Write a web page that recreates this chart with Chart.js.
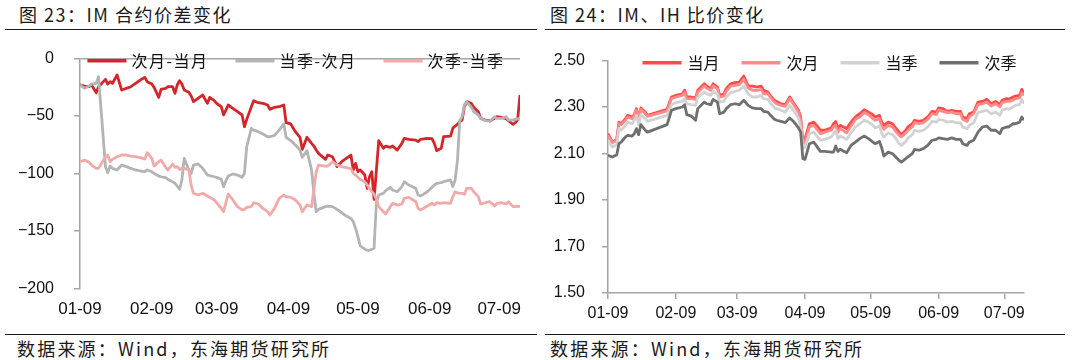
<!DOCTYPE html>
<html>
<head>
<meta charset="utf-8">
<script src="https://cdn.jsdelivr.net/npm/chart.js@4.4.1/dist/chart.umd.min.js"></script>
<style>
html, body { margin: 0; padding: 0; background: #fff; }
body { width: 1073px; height: 360px; position: relative; overflow: hidden; font-family: "Noto Sans CJK SC", sans-serif; color: #1a1a1a; }
.title { position: absolute; top: 3px; font-size: 18px; line-height: 22px; letter-spacing: 1.5px; white-space: nowrap; }
.rule { position: absolute; height: 1px; background: #1a1a1a; }
.source { position: absolute; top: 337px; font-size: 18px; line-height: 22px; letter-spacing: 2.2px; white-space: nowrap; }
.box { position: absolute; top: 40px; height: 290px; }
</style>
</head>
<body>
<div class="title" style="left:19px">图 23：IM 合约价差变化</div>
<div class="title" style="left:550px">图 24：IM、IH 比价变化</div>
<div class="rule" style="left:5px;width:532px;top:29px"></div>
<div class="rule" style="left:545px;width:520px;top:29px"></div>
<div class="box" style="left:0;width:540px"><canvas id="spreadChart"></canvas></div>
<div class="box" style="left:540px;width:533px"><canvas id="ratioChart"></canvas></div>
<div class="rule" style="left:5px;width:532px;top:334px"></div>
<div class="rule" style="left:545px;width:520px;top:334px"></div>
<div class="source" style="left:17px">数据来源：Wind，东海期货研究所</div>
<div class="source" style="left:550px">数据来源：Wind，东海期货研究所</div>

<script>
// x axis labels (2025)
const monthTicks = ['01-09', '02-09', '03-09', '04-09', '05-09', '06-09', '07-09'];

// 图23 IM 合约价差
const spreadDates = ['01-09','01-11','01-13','01-14','01-16','01-17','01-20','01-21','01-22','01-23','01-25','01-27',
  '01-29','01-31','02-02','02-04','02-06','02-07','02-09','02-10','02-12','02-13','02-15','02-16',
  '02-18','02-19','02-20','02-21','02-22','02-23','02-25','02-26','02-27','03-01','03-03','03-05',
  '03-06','03-08','03-09','03-11','03-12','03-13','03-14','03-16','03-18','03-20','03-21','03-22',
  '03-24','03-25','03-27','03-29','03-31','04-01','04-03','04-05','04-07','04-08','04-10','04-12',
  '04-14','04-15','04-17','04-19','04-20','04-21','04-22','04-25','04-26','04-28','04-30','05-02',
  '05-04','05-06','05-07','05-08','05-09','05-10','05-12','05-13','05-14','05-15','05-16','05-17',
  '05-18','05-20','05-21','05-23','05-24','05-26','05-28','05-29','05-31','06-03','06-04','06-05',
  '06-08','06-10','06-11','06-12','06-14','06-15','06-18','06-19','06-20','06-21','06-22','06-23',
  '06-24','06-25','06-27','06-28','06-30','07-01','07-03','07-05','07-07','07-08','07-10','07-12',
  '07-13','07-15','07-16','07-17','07-18'];
const spreadNext = [-23.2,-24.1,-24.7,-23.2,-29.9,-24.7,-18.3,-22.4,-20.3,-21.8,-14.5,-27.6,
  -26.1,-24.7,-21.8,-18.9,-16.6,-20.3,-22.4,-25.3,-34.0,-27.0,-26.1,-24.7,
  -24.7,-30.5,-23.2,-19.5,-22.4,-27.6,-29.6,-32.8,-37.7,-34.8,-31.9,-39.2,
  -34.0,-36.9,-39.2,-42.1,-49.3,-45.0,-40.6,-43.5,-46.4,-49.3,-59.5,-53.1,
  -42.1,-36.9,-38.6,-39.2,-40.6,-44.4,-42.6,-42.1,-40.6,-56.0,-57.1,-63.8,
  -68.7,-79.2,-68.7,-74.0,-76.3,-79.8,-82.7,-87.9,-84.1,-85.6,-94.2,-89.9,
  -87.0,-84.1,-97.1,-91.4,-98.6,-97.1,-101.5,-113.1,-103.0,-98.6,-122.7,-97.1,
  -71.6,-78.3,-76.3,-77.4,-76.3,-79.8,-74.0,-69.6,-70.5,-71.1,-72.5,-70.5,
  -69.6,-69.9,-74.0,-80.3,-78.3,-68.2,-67.6,-60.9,-58.9,-57.5,-55.0,-53.7,
  -42.1,-37.7,-39.2,-42.6,-46.4,-52.2,-53.7,-54.5,-52.2,-50.8,-51.3,-52.5,
  -54.2,-57.4,-56.0,-53.1,-31.9];
const spreadQuarter = [-23.2,-26.1,-24.1,-22.4,-21.8,-16.0,-94.2,-99.5,-93.7,-95.7,-97.1,-92.8,
  -94.2,-95.7,-97.1,-98.0,-98.6,-97.1,-98.6,-100.1,-102.4,-103.0,-103.8,-105.3,
  -107.3,-108.7,-111.1,-113.9,-105.8,-87.0,-97.1,-100.1,-92.8,-91.9,-95.7,-101.5,
  -102.1,-103.0,-103.5,-105.3,-111.6,-106.4,-102.4,-100.6,-101.5,-103.5,-100.1,-76.9,
  -60.9,-62.4,-63.8,-65.8,-68.2,-68.2,-67.0,-62.4,-57.1,-68.7,-71.6,-75.4,
  -79.8,-86.1,-80.3,-97.1,-117.4,-133.4,-131.4,-129.0,-128.5,-129.0,-131.4,-134.3,
  -137.2,-139.2,-142.1,-147.9,-155.1,-163.0,-166.0,-167.0,-167.0,-166.0,-165.0,-125.0,
  -118.9,-117.4,-115.1,-112.2,-114.5,-116.0,-111.6,-107.3,-110.2,-113.1,-118.9,-119.8,
  -116.0,-112.2,-110.2,-108.7,-108.2,-107.3,-105.8,-111.6,-105.8,-88.5,-54.0,-50.8,
  -40.6,-37.7,-42.6,-46.4,-49.3,-52.2,-54.2,-54.8,-50.8,-52.2,-52.2,-50.8,
  -53.7,-53.7,-53.1,-52.5,-53.1];
const spreadFar = [-89.9,-88.5,-90.5,-92.8,-95.7,-95.7,-85.6,-84.1,-89.9,-87.9,-85.6,-84.1,
  -84.1,-85.0,-85.6,-86.4,-87.6,-82.1,-87.0,-93.7,-89.9,-88.5,-94.8,-97.1,
  -91.9,-94.8,-94.2,-96.6,-95.7,-95.7,-97.1,-110.2,-117.4,-118.9,-117.4,-119.8,
  -120.9,-123.2,-125.6,-130.5,-133.4,-125.6,-118.0,-123.2,-129.0,-131.9,-131.4,-129.6,
  -129.0,-125.6,-126.7,-130.5,-133.4,-136.3,-130.5,-121.8,-118.9,-120.3,-120.9,-123.2,
  -127.6,-133.4,-127.6,-129.0,-114.5,-98.6,-92.8,-93.7,-93.7,-89.9,-92.8,-94.2,
  -95.1,-96.0,-100.1,-101.5,-103.5,-105.3,-107.3,-110.2,-113.1,-116.0,-118.0,-122.7,
  -129.0,-133.4,-135.4,-129.0,-126.1,-127.6,-126.7,-121.8,-120.9,-124.7,-130.5,-131.9,
  -128.5,-126.1,-127.6,-125.6,-126.1,-125.6,-126.1,-120.3,-116.0,-116.9,-117.4,-117.4,
  -118.3,-113.1,-113.1,-116.0,-120.3,-126.7,-125.6,-124.7,-128.5,-126.1,-125.6,-126.7,
  -124.7,-129.0,-129.0,-128.5,-129.0];
const spreadTicks = [0, -50, -100, -150, -200];

// 图24 IM、IH 比价
const ratioDates = ['01-09','01-11','01-13','01-14','01-15','01-17','01-18','01-20','01-21','01-22',
  '01-23','01-24','01-26','01-27','02-05','02-07','02-09','02-12','02-13','02-14',
  '02-16','02-18','02-19','02-22','02-23','02-25','02-26','02-28','03-01','03-03',
  '03-04','03-06','03-08','03-10','03-12','03-14','03-16','03-18','03-20','03-21',
  '03-23','03-24','03-26','03-27','03-29','03-31','04-02','04-04','04-06','04-07',
  '04-08','04-09','04-11','04-13','04-16','04-18','04-21','04-22','04-23','04-24',
  '04-25','04-28','04-30','05-02','05-04','05-06','05-08','05-10','05-11','05-13',
  '05-14','05-15','05-17','05-19','05-20','05-22','05-23','05-25','05-26','05-28',
  '05-29','05-31','06-02','06-04','06-06','06-08','06-09','06-11','06-13','06-15',
  '06-17','06-19','06-20','06-22','06-23','06-25','06-27','06-29','07-01','07-03',
  '07-05','07-07','07-08','07-10','07-11','07-13','07-14','07-16','07-17','07-18'];
const ratioM1 = [2.185,2.149,2.161,2.235,2.228,2.250,2.264,2.257,2.267,2.293,
  2.250,2.296,2.278,2.264,2.290,2.343,2.350,2.357,2.372,2.343,
  2.343,2.339,2.372,2.400,2.390,2.379,2.400,2.386,2.350,2.357,
  2.379,2.400,2.405,2.407,2.433,2.390,2.390,2.386,2.390,2.372,
  2.364,2.350,2.329,2.324,2.314,2.310,2.343,2.314,2.286,2.257,
  2.149,2.164,2.228,2.235,2.200,2.200,2.210,2.228,2.238,2.207,
  2.221,2.207,2.235,2.257,2.271,2.288,2.278,2.267,2.257,2.264,
  2.235,2.221,2.235,2.228,2.214,2.192,2.181,2.200,2.214,2.228,
  2.243,2.238,2.243,2.257,2.281,2.278,2.296,2.293,2.281,2.286,
  2.281,2.281,2.257,2.250,2.271,2.278,2.321,2.324,2.333,2.314,
  2.324,2.310,2.329,2.336,2.333,2.343,2.347,2.350,2.376,2.357];
const ratioM2 = [2.178,2.146,2.157,2.228,2.224,2.243,2.257,2.250,2.264,2.286,
  2.247,2.290,2.271,2.260,2.283,2.336,2.343,2.350,2.362,2.336,
  2.336,2.333,2.364,2.390,2.382,2.372,2.390,2.379,2.343,2.347,
  2.367,2.390,2.393,2.396,2.419,2.382,2.372,2.372,2.376,2.357,
  2.357,2.343,2.321,2.314,2.307,2.303,2.336,2.307,2.278,2.243,
  2.142,2.149,2.214,2.221,2.185,2.192,2.200,2.214,2.221,2.192,
  2.207,2.189,2.218,2.247,2.257,2.276,2.267,2.250,2.243,2.250,
  2.218,2.204,2.221,2.214,2.200,2.178,2.171,2.189,2.200,2.214,
  2.233,2.228,2.233,2.247,2.271,2.267,2.286,2.281,2.276,2.278,
  2.271,2.271,2.247,2.238,2.257,2.271,2.310,2.314,2.321,2.304,
  2.314,2.300,2.319,2.324,2.324,2.329,2.336,2.339,2.362,2.350];
const ratioQ1 = [2.157,2.128,2.138,2.207,2.200,2.221,2.235,2.228,2.243,2.264,
  2.224,2.267,2.250,2.238,2.264,2.310,2.319,2.324,2.336,2.314,
  2.310,2.307,2.343,2.364,2.357,2.350,2.367,2.357,2.321,2.324,
  2.343,2.362,2.367,2.372,2.390,2.357,2.343,2.343,2.350,2.336,
  2.333,2.319,2.296,2.293,2.286,2.278,2.307,2.281,2.253,2.214,
  2.121,2.128,2.185,2.192,2.157,2.161,2.171,2.185,2.200,2.164,
  2.175,2.161,2.189,2.214,2.228,2.243,2.235,2.221,2.210,2.218,
  2.189,2.171,2.189,2.181,2.171,2.142,2.135,2.152,2.167,2.181,
  2.200,2.195,2.200,2.214,2.238,2.235,2.247,2.243,2.235,2.238,
  2.233,2.233,2.214,2.207,2.221,2.233,2.276,2.281,2.286,2.271,
  2.278,2.264,2.286,2.293,2.290,2.300,2.307,2.310,2.333,2.314];
const ratioQ2 = [2.092,2.085,2.095,2.142,2.149,2.171,2.178,2.175,2.185,2.207,
  2.181,2.224,2.200,2.192,2.224,2.286,2.293,2.300,2.310,2.267,
  2.261,2.243,2.293,2.321,2.314,2.310,2.333,2.321,2.271,2.278,
  2.293,2.310,2.314,2.310,2.329,2.307,2.296,2.293,2.293,2.281,
  2.278,2.267,2.247,2.243,2.238,2.233,2.253,2.235,2.210,2.192,
  2.078,2.075,2.142,2.149,2.109,2.109,2.106,2.106,2.132,2.109,
  2.118,2.103,2.135,2.149,2.164,2.175,2.164,2.149,2.142,2.152,
  2.124,2.089,2.106,2.099,2.089,2.070,2.063,2.078,2.085,2.099,
  2.118,2.114,2.121,2.135,2.157,2.161,2.167,2.164,2.161,2.167,
  2.161,2.161,2.142,2.135,2.149,2.157,2.192,2.214,2.218,2.200,
  2.200,2.185,2.207,2.214,2.214,2.228,2.228,2.235,2.257,2.243];
const ratioTicks = [1.5, 1.7, 1.9, 2.1, 2.3, 2.5];

// days since 01-09
function dayOf(mmdd) {
  const [m, d] = mmdd.split('-').map(Number);
  return (Date.UTC(2025, m - 1, d) - Date.UTC(2025, 0, 9)) / 864e5;
}
const tickDays = monthTicks.map(dayOf);
function points(dates, vals) {
  return vals.map((v, i) => ({ x: dayOf(dates[i]), y: v }));
}

// legend drawn as line samples sitting on the top of the plot area
const lineLegend = {
  id: 'lineLegend',
  afterDraw(chart, args, opts) {
    const { ctx, chartArea } = chart;
    const sets = chart.data.datasets;
    ctx.save();
    ctx.font = opts.font;
    if ('letterSpacing' in ctx) ctx.letterSpacing = opts.letterSpacing || '0px';
    const widths = sets.map(ds => opts.boxWidth + opts.textGap + ctx.measureText(ds.label).width);
    const total = widths.reduce((a, b) => a + b, 0) + opts.itemGap * (sets.length - 1);
    let x = (chartArea.left + chartArea.right) / 2 - total / 2 + opts.shiftX;
    const y = chartArea.top + opts.offsetY;
    ctx.textBaseline = 'middle';
    sets.forEach((ds, i) => {
      ctx.strokeStyle = ds.borderColor;
      ctx.lineWidth = opts.lineWidth;
      ctx.beginPath();
      ctx.moveTo(x, y);
      ctx.lineTo(x + opts.boxWidth, y);
      ctx.stroke();
      ctx.fillStyle = opts.color;
      ctx.fillText(ds.label, x + opts.boxWidth + opts.textGap, y + 0.5);
      x += widths[i] + opts.itemGap;
    });
    ctx.restore();
  }
};

const axisGray = '#a6a6a6';
const fontFamily = '"Liberation Sans", Arial, sans-serif';

// keep the plot area where layout.padding puts it
function noOverflow(s, size) {
  if (s.isHorizontal()) s.height = size; else s.width = size;
  s.paddingTop = 0;
  s.paddingBottom = 0;
  s.paddingLeft = 0;
  s.paddingRight = 0;
}

function xScale(lastDay, fontSize, padding, opts) {
  return Object.assign({
    type: 'linear',
    min: 0,
    max: lastDay,
    afterBuildTicks: s => { s.ticks = tickDays.map(v => ({ value: v })); },
    ticks: {
      autoSkip: false,
      maxRotation: 0,
      color: '#111',
      font: { family: fontFamily, size: fontSize },
      padding: padding,
      callback: (v, i) => monthTicks[i]
    }
  }, opts);
}

function line(label, color, dates, vals, order) {
  return {
    label: label,
    data: points(dates, vals),
    borderColor: color,
    backgroundColor: color,
    borderWidth: 2.8,
    borderJoinStyle: 'round',
    pointRadius: 0,
    tension: 0,
    order: order
  };
}

Chart.defaults.animation = false;

new Chart(document.getElementById('spreadChart'), {
  type: 'line',
  data: {
    datasets: [
      line('次月-当月', '#d3262b', spreadDates, spreadNext, 3),
      line('当季-次月', '#b4b4b4', spreadDates, spreadQuarter, 2),
      line('次季-当季', '#f1aaaa', spreadDates, spreadFar, 1)
    ]
  },
  options: {
    responsive: true,
    maintainAspectRatio: false,
    layout: { padding: { top: 18.3, right: 20, bottom: 0, left: 0 } },
    plugins: {
      legend: { display: false },
      tooltip: { enabled: false },
      lineLegend: {
        font: '16px "Noto Sans CJK SC"', letterSpacing: '1.5px', color: '#111',
        boxWidth: 39, textGap: 5, itemGap: 27, offsetY: 2.5, lineWidth: 3.5, shiftX: -4
      }
    },
    scales: {
      x: xScale(dayOf(spreadDates[spreadDates.length - 1]), 17, 10.5, {
        border: { display: false },
        grid: { display: false, drawTicks: false },
        afterFit: s => noOverflow(s, 41.7)
      }),
      y: {
        min: -200,
        max: 0,
        afterBuildTicks: s => { s.ticks = spreadTicks.map(v => ({ value: v })); },
        border: { color: axisGray, width: 1.5 },
        grid: {
          color: c => (c.tick && c.tick.value === 0 ? axisGray : 'rgba(0,0,0,0)'),
          lineWidth: 1.5,
          tickColor: axisGray,
          tickLength: 6
        },
        ticks: {
          color: '#111',
          font: { family: fontFamily, size: 16 },
          padding: 20,
          callback: v => (v < 0 ? '\u2212' + Math.abs(v) : String(v))
        },
        afterFit: s => noOverflow(s, 80)
      }
    }
  },
  plugins: [lineLegend]
});

new Chart(document.getElementById('ratioChart'), {
  type: 'line',
  data: {
    datasets: [
      line('当月', '#ff4a4a', ratioDates, ratioM1, 4),
      line('次月', '#ff8a8a', ratioDates, ratioM2, 3),
      line('当季', '#d2d2d2', ratioDates, ratioQ1, 2),
      line('次季', '#6f6f6f', ratioDates, ratioQ2, 1)
    ]
  },
  options: {
    responsive: true,
    maintainAspectRatio: false,
    layout: { padding: { top: 20.5, right: 49, bottom: 0, left: 0 } },
    plugins: {
      legend: { display: false },
      tooltip: { enabled: false },
      lineLegend: {
        font: '16px "Noto Sans CJK SC"', letterSpacing: '0px', color: '#111',
        boxWidth: 39, textGap: 6, itemGap: 22, offsetY: 2.2, lineWidth: 3.5, shiftX: 13.5
      }
    },
    scales: {
      x: xScale(dayOf(ratioDates[ratioDates.length - 1]), 16, 5.4, {
        border: { color: axisGray, width: 1.5 },
        grid: { drawOnChartArea: false, color: axisGray, lineWidth: 1.5, tickLength: 6 },
        afterFit: s => noOverflow(s, 37)
      }),
      y: {
        min: 1.5,
        max: 2.5,
        afterBuildTicks: s => { s.ticks = ratioTicks.map(v => ({ value: v })); },
        border: { color: axisGray, width: 1.5 },
        grid: { drawOnChartArea: false, color: axisGray, lineWidth: 1.5, tickLength: 6 },
        ticks: {
          color: '#111',
          font: { family: fontFamily, size: 16 },
          padding: 17,
          callback: v => v.toFixed(2)
        },
        afterFit: s => noOverflow(s, 68)
      }
    }
  },
  plugins: [lineLegend]
});
</script>
</body>
</html>
